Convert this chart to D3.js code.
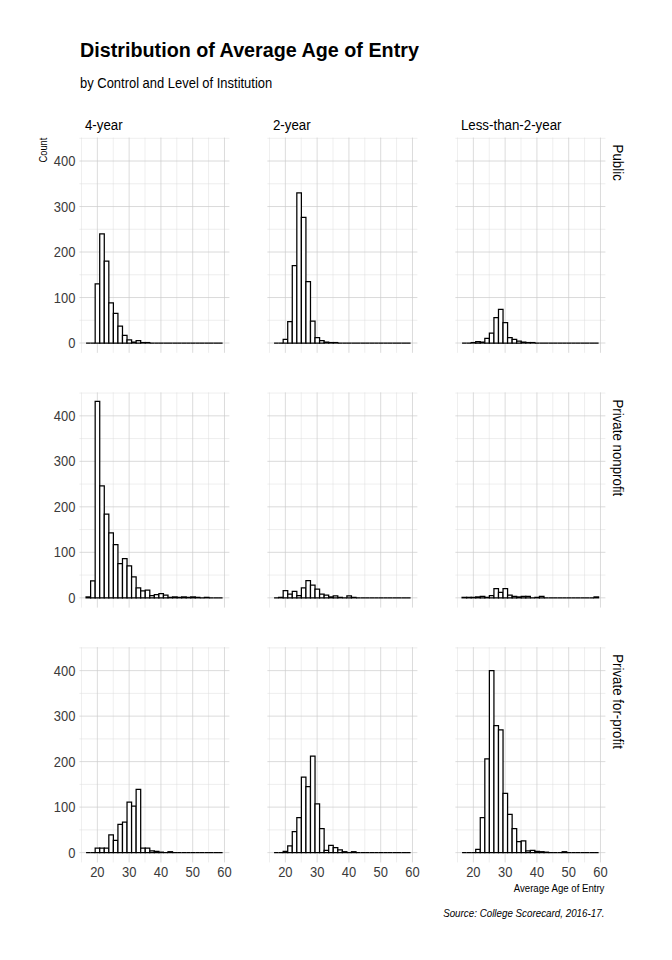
<!DOCTYPE html>
<html>
<head>
<meta charset="utf-8">
<script src="https://cdn.jsdelivr.net/npm/d3@7"></script>
<style>
    body { margin: 0; background: #fff; }
    svg { font-family: "Liberation Sans", Arial, sans-serif; }
</style>
</head>
<body>
<div id="chart"></div>
<script>
const levels = ['4-year', '2-year', 'Less-than-2-year']
const controls = ['Public', 'Private nonprofit', 'Private for-profit']

// 30 bins of average age, starting at binStart, each binWidth years wide
const binStart = 16.45
const binWidth = 1.432

const publicFour = [0, 0, 130, 240, 180, 88, 65, 37, 17, 7, 2, 5, 1, 1, 0, 0, 0, 0, 0, 0, 0, 0, 0, 0, 0, 0, 0, 0, 0, 0]
const publicTwo = [0, 0, 8, 47, 170, 330, 276, 135, 48, 12, 5, 2, 1, 1, 0, 0, 0, 0, 0, 0, 0, 0, 0, 0, 0, 0, 0, 0, 0, 0]
const publicLess = [0, 0, 1, 3, 2, 10, 22, 56, 74, 45, 12, 8, 4, 2, 1, 1, 0, 0, 0, 0, 0, 0, 0, 0, 0, 0, 0, 0, 0, 0]
const nonprofitFour = [2, 37, 432, 246, 184, 143, 117, 75, 86, 70, 46, 22, 15, 17, 5, 7, 9, 6, 1, 2, 1, 2, 1, 2, 1, 0, 1, 0, 0, 0]
const nonprofitTwo = [0, 1, 16, 8, 14, 5, 22, 38, 28, 19, 8, 6, 2, 4, 1, 0, 4, 1, 0, 0, 0, 0, 0, 0, 0, 0, 0, 0, 0, 0]
const nonprofitLess = [1, 1, 1, 2, 3, 1, 5, 20, 12, 20, 6, 3, 2, 3, 3, 0, 1, 3, 0, 0, 0, 0, 0, 0, 0, 0, 0, 0, 0, 2]
const forprofitFour = [0, 0, 10, 10, 10, 39, 27, 62, 67, 111, 102, 139, 10, 10, 4, 3, 1, 0, 2, 0, 0, 0, 0, 0, 0, 0, 0, 0, 0, 0]
const forprofitTwo = [0, 0, 3, 15, 46, 77, 166, 145, 212, 107, 53, 5, 16, 11, 6, 2, 0, 2, 0, 0, 0, 0, 0, 0, 0, 0, 0, 0, 0, 0]
const forprofitLess = [0, 0, 0, 7, 77, 206, 400, 279, 270, 130, 84, 53, 24, 26, 4, 5, 3, 2, 1, 0, 0, 0, 2, 0, 0, 0, 0, 0, 0, 0]

const counts = [
    [publicFour, publicTwo, publicLess],
    [nonprofitFour, nonprofitTwo, nonprofitLess],
    [forprofitFour, forprofitTwo, forprofitLess],
]

const xTicks = [20, 30, 40, 50, 60]
const xMinor = [15, 25, 35, 45, 55]
const yTicks = [0, 100, 200, 300, 400]
const yMinor = [50, 150, 250, 350, 450]

const titleText = 'Distribution of Average Age of Entry'
const subtitleText = 'by Control and Level of Institution'
const captionText = 'Source: College Scorecard, 2016-17.'

const width = 672, height = 960
let margin = ({top: 137.6, left: 79.4}),
    panelW = 150, panelH = 215.2,
    colStep = 188, rowStep = 254.8
const narrow = 0.9

const svg = d3.select('#chart').append('svg')
    .attr('width', width)
    .attr('height', height)

let xScale = d3.scaleLinear()
    .domain([14.35, 61.55])
    .range([0, panelW])
let yScale = d3.scaleLinear()
    .domain([-21.5, 451.5])
    .range([panelH, 0])

// slightly condensed text, the original font is narrower than Arial
function label(parent, x, y, txt, size, anchor, rotate) {
    return parent.append('text')
        .attr('transform', `translate(${x},${y})` + (rotate ? ` rotate(${rotate})` : '') + ` scale(${narrow},1)`)
        .attr('text-anchor', anchor || 'start')
        .attr('font-size', size)
        .attr('fill', '#000')
        .text(txt)
}

svg.append('text')
    .attr('transform', 'translate(80,56.5) scale(0.95,1)')
    .attr('font-size', 20.8).attr('font-weight', 'bold')
    .attr('fill', '#000')
    .text(titleText)
label(svg, 80, 88, subtitleText, 14.4)

function drawPanel(row, col) {
    const g = svg.append('g')
        .attr('transform', `translate(${margin.left + col * colStep},${margin.top + row * rowStep})`)

    g.selectAll('.minorx').data(xMinor).join('line')
        .attr('x1', d => xScale(d)).attr('x2', d => xScale(d))
        .attr('y1', 0).attr('y2', panelH)
        .attr('stroke', '#dcdcdc').attr('stroke-width', 0.5)
    g.selectAll('.minory').data(yMinor.filter(d => yScale(d) >= 0)).join('line')
        .attr('x1', 0).attr('x2', panelW)
        .attr('y1', d => yScale(d)).attr('y2', d => yScale(d))
        .attr('stroke', '#dcdcdc').attr('stroke-width', 0.5)
    g.selectAll('.majorx').data(xTicks).join('line')
        .attr('x1', d => xScale(d)).attr('x2', d => xScale(d))
        .attr('y1', 0).attr('y2', panelH)
        .attr('stroke', '#cccccc').attr('stroke-width', 0.7)
    g.selectAll('.majory').data(yTicks).join('line')
        .attr('x1', 0).attr('x2', panelW)
        .attr('y1', d => yScale(d)).attr('y2', d => yScale(d))
        .attr('stroke', '#cccccc').attr('stroke-width', 0.7)

    const bins = counts[row][col].map((v, i) => ({
        x0: binStart + i * binWidth,
        x1: binStart + (i + 1) * binWidth,
        value: v
    }))
    // paths instead of rects so the empty bins still leave a baseline
    g.selectAll('path.bar').data(bins).join('path')
        .attr('class', 'bar')
        .attr('d', d => `M${xScale(d.x0)},${yScale(0)}V${yScale(d.value)}H${xScale(d.x1)}V${yScale(0)}Z`)
        .attr('fill', '#fff')
        .attr('stroke', '#000')
        .attr('stroke-width', 1.25)

    if (row === 0) label(g, 5.5, -7.5, levels[col], 14.8)
    if (col === 2) label(g, panelW + 7.5, 7, controls[row], 14.8, 'start', 90)
    if (col === 0) {
        yTicks.forEach(d => {
            label(g, -4, yScale(d) + 5, d, 14.4, 'end').attr('fill', '#3a3a3a')
        })
    }
    if (row === 2) {
        xTicks.forEach(d => {
            label(g, xScale(d), panelH + 15, d, 14.4, 'middle').attr('fill', '#3a3a3a')
        })
    }
}

for (let r = 0; r < 3; r++) {
    for (let c = 0; c < 3; c++) drawPanel(r, c)
}

label(svg, 47, margin.top, 'Count', 10.4, 'end', -90)
label(svg, margin.left + 2 * colStep + panelW - 1, 892, 'Average Age of Entry', 10.7, 'end')
label(svg, margin.left + 2 * colStep + panelW - 1, 917, captionText, 10.9, 'end')
    .attr('font-style', 'italic')
</script>
</body>
</html>
